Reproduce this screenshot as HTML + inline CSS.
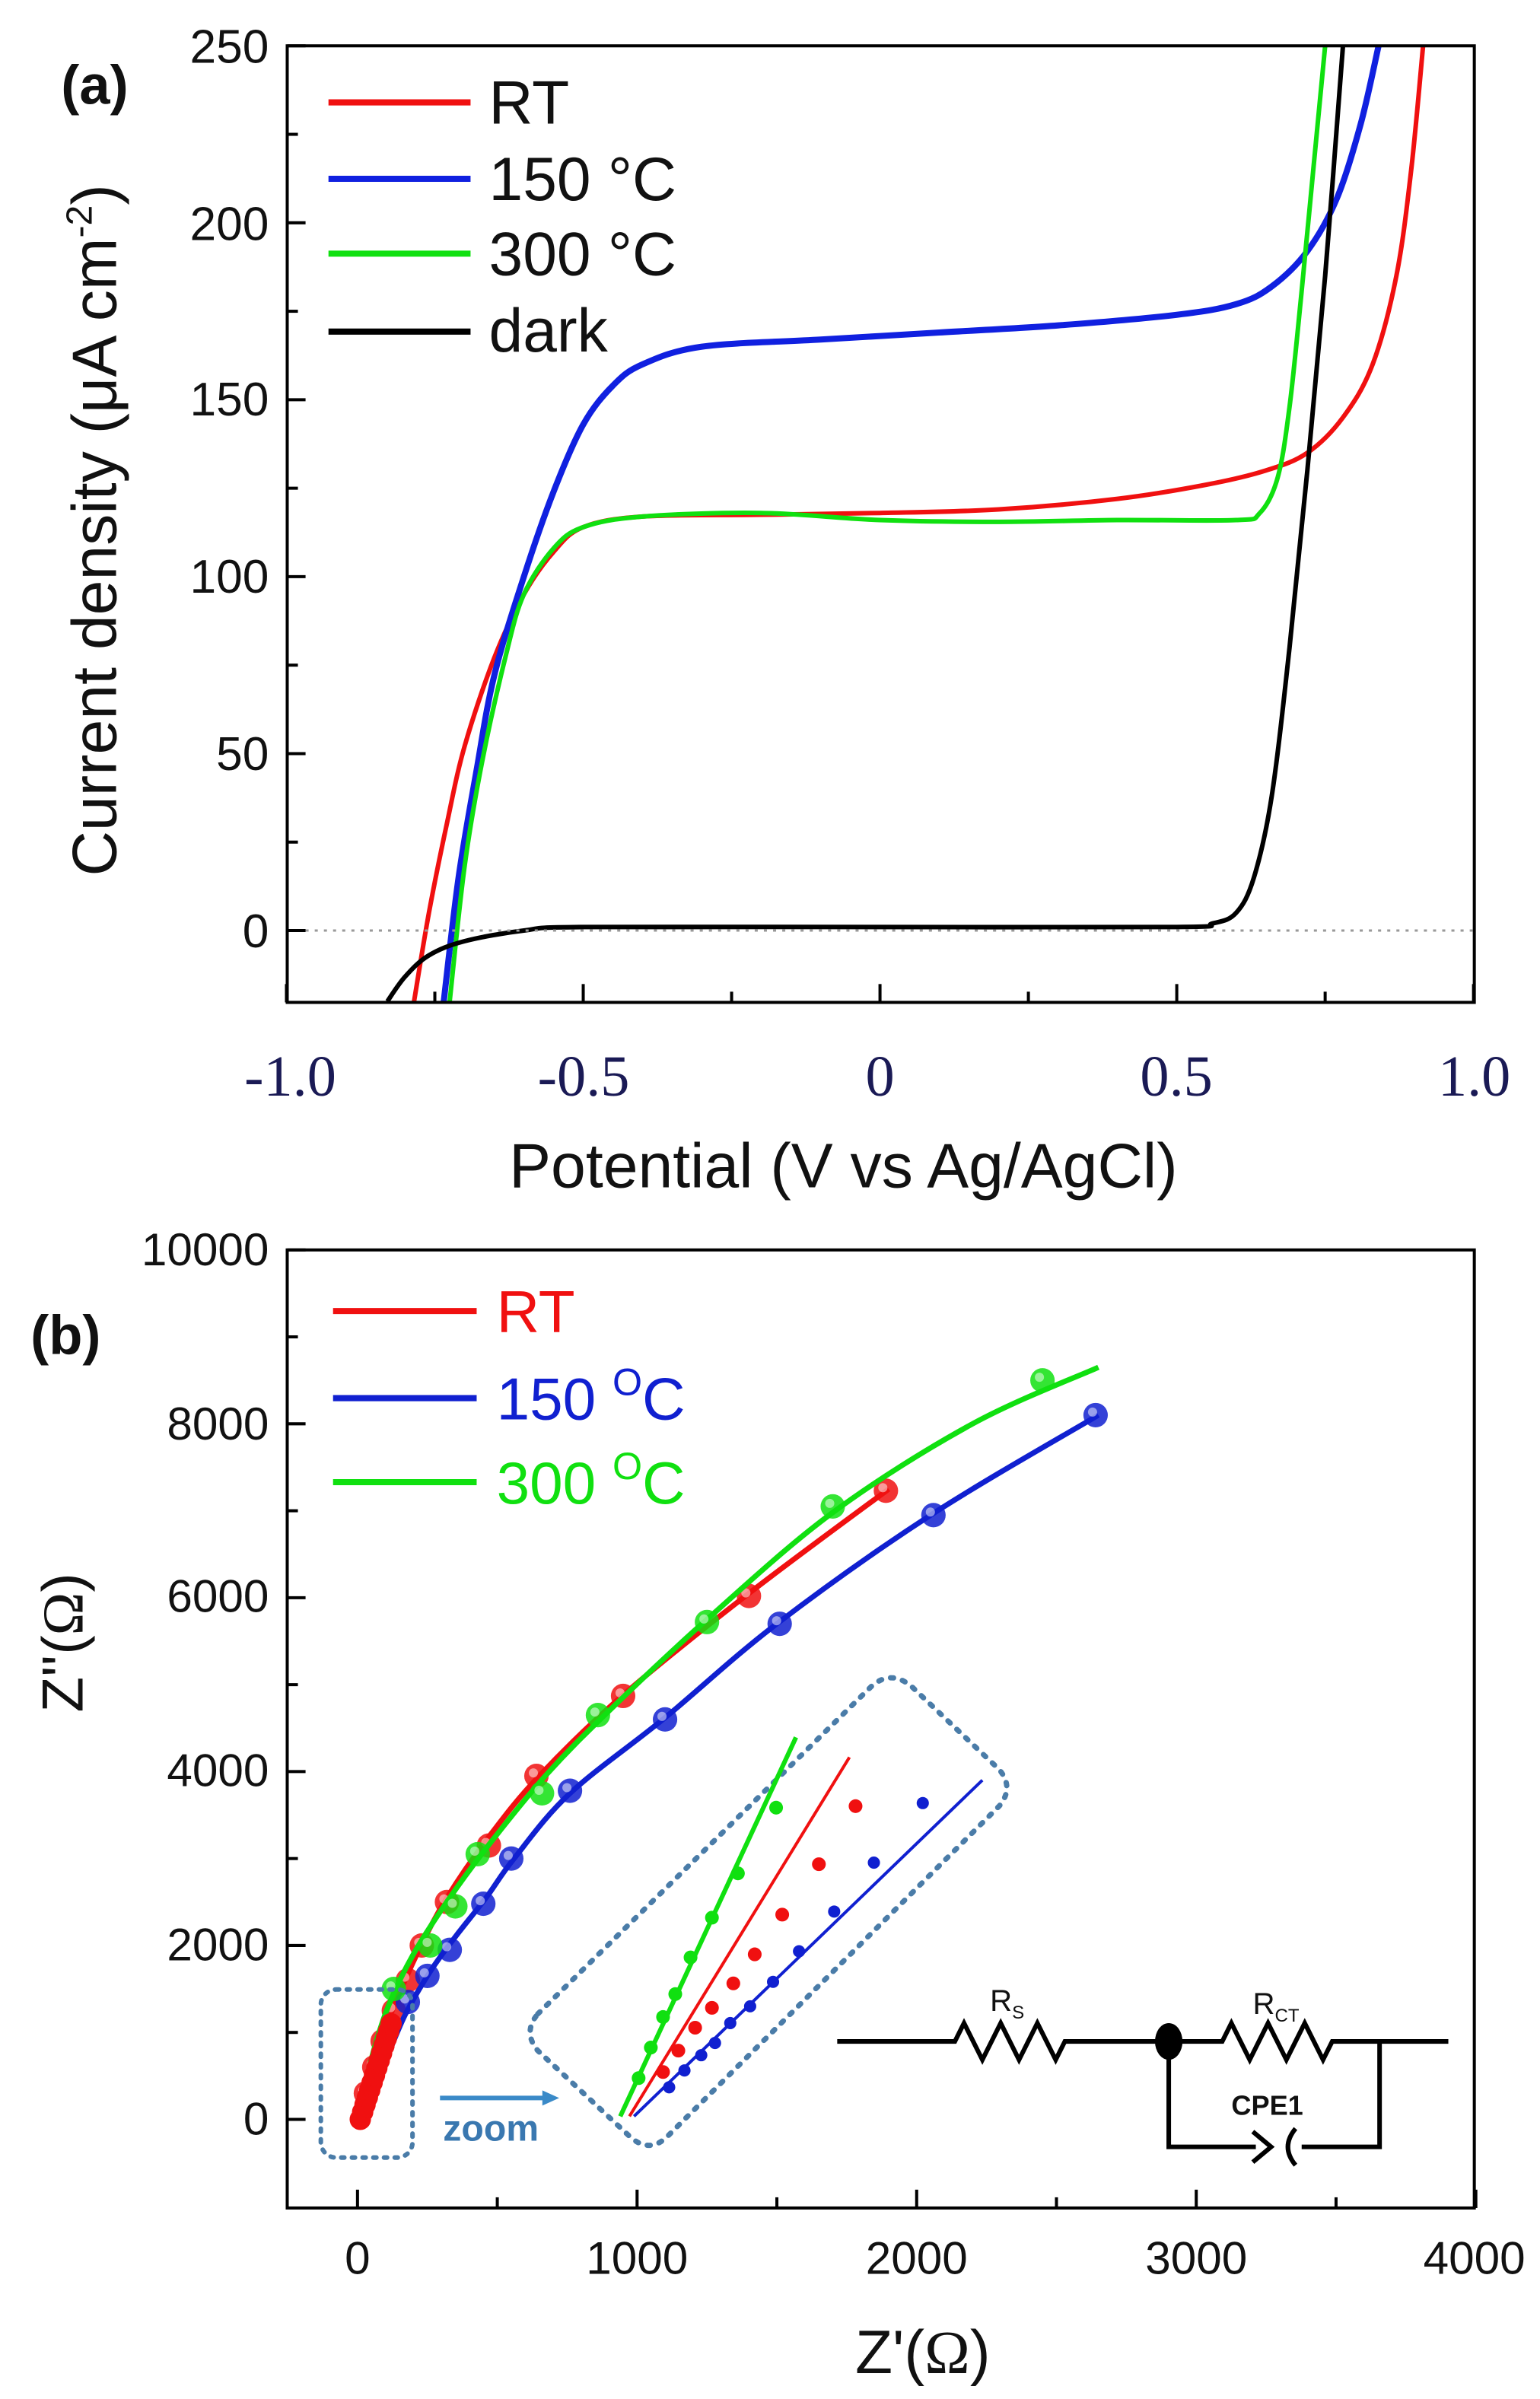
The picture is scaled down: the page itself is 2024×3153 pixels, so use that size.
<!DOCTYPE html>
<html><head><meta charset="utf-8"><style>
html,body{margin:0;padding:0;background:#fff;}
svg{display:block;}
text{font-family:"Liberation Sans",sans-serif;}
</style></head><body>
<svg id="s" width="2024" height="3153" viewBox="0 0 1008 1570" preserveAspectRatio="none" xmlns="http://www.w3.org/2000/svg">
<rect width="1008" height="1570" fill="#fff"/>
<g id="a"></g>
<g id="b"></g>
<rect x="188" y="30" width="777" height="626" fill="none" stroke="#000" stroke-width="2"/>
<line x1="188" y1="609" x2="965" y2="609" stroke="#999" stroke-width="1.5" stroke-dasharray="2,4"/>
<g font-size="31" text-anchor="end" fill="#111">
<text x="176" y="41">250</text><text x="176" y="157">200</text><text x="176" y="272">150</text>
<text x="176" y="388">100</text><text x="176" y="504">50</text><text x="176" y="620">0</text>
</g>
<g font-size="38" text-anchor="middle" fill="#1a1a55">
<text x="190" y="717" style="font-family:'Liberation Serif',serif">-1.0</text>
<text x="382" y="717" style="font-family:'Liberation Serif',serif">-0.5</text>
<text x="576" y="717" style="font-family:'Liberation Serif',serif">0</text>
<text x="770" y="717" style="font-family:'Liberation Serif',serif">0.5</text>
<text x="965" y="717" style="font-family:'Liberation Serif',serif">1.0</text>
</g>
<text x="552" y="777" font-size="41" text-anchor="middle" fill="#111">Potential (V vs Ag/AgCl)</text>
<text transform="translate(76,347) rotate(-90)" font-size="41" text-anchor="middle" fill="#111">Current density (μA cm<tspan font-size="24" dy="-16">-2</tspan><tspan dy="16">)</tspan></text>
<text x="40" y="68" font-size="36" font-weight="bold" fill="#111">(a)</text>
<g stroke-width="4">
<line x1="215" y1="67" x2="308" y2="67" stroke="#f01010"/>
<line x1="215" y1="117" x2="308" y2="117" stroke="#1020e0"/>
<line x1="215" y1="166" x2="308" y2="166" stroke="#10e010"/>
<line x1="215" y1="217" x2="308" y2="217" stroke="#000"/>
</g>
<g font-size="40" fill="#111">
<text x="320" y="81">RT</text><text x="320" y="131">150 °C</text><text x="320" y="180">300 °C</text><text x="320" y="230">dark</text>
</g>
<rect x="188" y="818" width="777" height="627" fill="none" stroke="#000" stroke-width="2"/>
<g font-size="30" text-anchor="end" fill="#111">
<text x="176" y="828">10000</text><text x="176" y="942">8000</text><text x="176" y="1055">6000</text>
<text x="176" y="1169">4000</text><text x="176" y="1283">2000</text><text x="176" y="1397">0</text>
</g>
<g font-size="30" text-anchor="middle" fill="#111">
<text x="234" y="1488">0</text><text x="417" y="1488">1000</text><text x="600" y="1488">2000</text>
<text x="783" y="1488">3000</text><text x="965" y="1488">4000</text>
</g>
<text x="604" y="1553" font-size="40" text-anchor="middle" fill="#111">Z'(<tspan style="font-family:'Liberation Serif',serif">Ω</tspan>)</text>
<text transform="translate(54,1075) rotate(-90)" font-size="38" text-anchor="middle" fill="#111">Z''(<tspan style="font-family:'Liberation Serif',serif">Ω</tspan>)</text>
<text x="20" y="886" font-size="36" font-weight="bold" fill="#111">(b)</text>
<g stroke-width="4">
<line x1="218" y1="858" x2="312" y2="858" stroke="#f01010"/>
<line x1="218" y1="915" x2="312" y2="915" stroke="#1020d0"/>
<line x1="218" y1="970" x2="312" y2="970" stroke="#10e010"/>
</g>
<g font-size="39">
<text x="325" y="872" fill="#f01010">RT</text>
<text x="325" y="929" fill="#1020d0">150 <tspan font-size="25" dy="-16">O</tspan><tspan dy="16">C</tspan></text>
<text x="325" y="984" fill="#10e010">300 <tspan font-size="25" dy="-16">O</tspan><tspan dy="16">C</tspan></text>
</g>
<rect x="210" y="1302" width="60" height="110" rx="10" fill="none" stroke="#4a7ca8" stroke-width="3" stroke-dasharray="2,5" stroke-linecap="round"/>
<line x1="288" y1="1373" x2="358" y2="1373" stroke="#3a8ac8" stroke-width="3"/>
<polygon points="366,1373 355,1368 355,1378" fill="#3a8ac8"/>
<text x="290" y="1401" font-size="24" font-weight="bold" fill="#3a78b0">zoom</text>
<path d="M352,1318 L570,1104 Q583,1092 597,1104 L654,1158 Q664,1170 654,1182 L437,1398 Q425,1410 412,1398 L352,1342 Q342,1330 352,1318 Z" fill="none" stroke="#4a7ca8" stroke-width="3.5" stroke-dasharray="2,6" stroke-linecap="round"/>
<g id="z"></g>
<g stroke="#000" stroke-width="3" fill="none">
<path d="M548,1336 H625 l6,-12 l12,24 l12,-24 l12,24 l12,-24 l12,24 l6,-12 H800 l6,-12 l12,24 l12,-24 l12,24 l12,-24 l12,24 l6,-12 H948"/>
<path d="M765,1336 V1405 H903 V1336"/>
</g>
<rect x="822" y="1398" width="30" height="14" fill="#fff"/>
<path d="M820,1395 l12,10 l-12,10 M848,1393 q-10,12 0,24" stroke="#000" stroke-width="3" fill="none"/>
<ellipse cx="765" cy="1336" rx="9" ry="12" fill="#000"/>
<text x="648" y="1316" font-size="20" fill="#111">R<tspan font-size="12" dy="5">S</tspan></text>
<text x="820" y="1318" font-size="20" fill="#111">R<tspan font-size="12" dy="5">CT</tspan></text>
<text x="806" y="1384" font-size="18" font-weight="bold" fill="#111">CPE1</text>
</svg>
<script>
var NS="http://www.w3.org/2000/svg";
function el(p,t,a){var e=document.createElementNS(NS,t);for(var k in a)e.setAttribute(k,a[k]);p.appendChild(e);return e;}
function cr(pts){var d="M"+pts[0][0]+","+pts[0][1];for(var i=0;i<pts.length-1;i++){var p0=pts[i>0?i-1:0],p1=pts[i],p2=pts[i+1],p3=pts[i+2<pts.length?i+2:i+1];
d+=" C"+(p1[0]+(p2[0]-p0[0])/6)+","+(p1[1]+(p2[1]-p0[1])/6)+" "+(p2[0]-(p3[0]-p1[0])/6)+","+(p2[1]-(p3[1]-p1[1])/6)+" "+p2[0]+","+p2[1];}return d;}
var A=document.getElementById("a");
function ax(v){return 576+v*388.5;} function ay(j){return 609-j*2.316;}
var s=document.getElementById("s");
for(var v=-1;v<=1.001;v+=0.25){var x=ax(v),L=(Math.abs(v*2-Math.round(v*2))<0.01)?12:7;el(s,"line",{x1:x,y1:656,x2:x,y2:656-L,stroke:"#000","stroke-width":2});}
for(var j=-0;j<=250;j+=25){var y=ay(j),L=(j%50==0)?12:7;el(s,"line",{x1:188,y1:y,x2:188+L,y2:y,stroke:"#000","stroke-width":2});}
var ser={
"#f01010":[[-0.785,-20],[-0.76,5],[-0.73,30],[-0.7,52],[-0.65,77],[-0.6,95],[-0.55,107],[-0.5,114],[-0.4,117],[-0.2,117.5],[0,118],[0.2,119],[0.4,122],[0.55,126],[0.65,130],[0.72,135],[0.78,145],[0.83,160],[0.87,185],[0.895,215],[0.915,250]],
"#1020e0":[[-0.735,-20],[-0.71,15],[-0.68,45],[-0.65,72],[-0.6,100],[-0.55,124],[-0.5,143],[-0.45,154],[-0.4,160],[-0.3,165],[-0.1,167],[0.1,169],[0.3,171],[0.5,174],[0.6,177],[0.66,182],[0.72,192],[0.77,207],[0.81,228],[0.84,250]],
"#10e010":[[-0.725,-20],[-0.7,18],[-0.67,48],[-0.63,78],[-0.6,95],[-0.55,108],[-0.5,114],[-0.4,117],[-0.2,118],[0,116],[0.2,115.5],[0.4,116],[0.6,116],[0.64,118],[0.67,128],[0.69,148],[0.71,180],[0.73,215],[0.75,250]],
"#000":[[-0.83,-20],[-0.8,-13],[-0.76,-7],[-0.7,-3],[-0.6,0],[-0.5,1],[0,1],[0.5,1],[0.56,2],[0.6,5],[0.63,15],[0.66,38],[0.69,80],[0.72,130],[0.75,185],[0.78,250]]};
for(var c in ser){var p=ser[c].map(function(q){return [ax(q[0]),ay(q[1])];});
el(A,"path",{d:cr(p),fill:"none",stroke:c,"stroke-width":(c=="#1020e0"?4:3)});}
var B=document.getElementById("b");
function bx(v){return 234+v*0.183;} function by(v){return 1387-v*0.0569;}
for(var v=0;v<=4000;v+=500){var x=bx(v),L=(v%1000==0)?12:7;el(s,"line",{x1:x,y1:1445,x2:x,y2:1445-L,stroke:"#000","stroke-width":2});}
for(var v=0;v<=10000;v+=1000){var y=by(v),L=(v%2000==0)?12:7;el(s,"line",{x1:188,y1:y,x2:188+L,y2:y,stroke:"#000","stroke-width":2});}
var bs={
"#f01010":{l:[[0,0],[60,700],[130,1300],[220,1950],[320,2550],[470,3250],[650,3950],[950,4880],[1400,6050],[1900,7250]],p:[[30,300],[60,600],[90,900],[130,1250],[180,1600],[230,2000],[320,2500],[470,3150],[640,3950],[950,4870],[1400,6020],[1890,7230]]},
"#1020d0":{l:[[0,0],[90,600],[170,1200],[260,1700],[350,2100],[460,2550],[560,3000],[760,3750],[1100,4620],[1500,5700],[2050,6950],[2650,8100]],p:[[180,1350],[250,1650],[330,1950],[450,2480],[550,3000],[760,3780],[1100,4600],[1510,5700],[2060,6950],[2640,8100]]},
"#10e010":{l:[[0,0],[50,700],[110,1300],[200,1900],[330,2550],[480,3200],[680,3980],[900,4700],[1250,5750],[1700,6980],[2200,8000],[2650,8650]],p:[[130,1500],[260,2000],[350,2450],[430,3050],[660,3750],[860,4650],[1250,5720],[1700,7050],[2450,8500]]}};
for(var c in bs){var L=bs[c].l.map(function(q){return [bx(q[0]),by(q[1])];});
el(B,"path",{d:cr(L),fill:"none",stroke:c,"stroke-width":3.5});
bs[c].p.forEach(function(q){el(B,"circle",{cx:bx(q[0]),cy:by(q[1]),r:8,fill:c,opacity:0.85});el(B,"circle",{cx:bx(q[0])-2,cy:by(q[1])-2,r:3,fill:"#fff",opacity:0.5});});}
for(var i=0;i<14;i++){var t=i/13;el(B,"circle",{cx:bx(10+t*110),cy:by(t*1100),r:7,fill:"#f01010"});}
var Z=document.getElementById("z");
el(Z,"line",{x1:406,y1:1385,x2:521,y2:1137,stroke:"#10e010","stroke-width":3});
el(Z,"line",{x1:412,y1:1385,x2:556,y2:1150,stroke:"#f01010","stroke-width":2});
el(Z,"line",{x1:415,y1:1385,x2:643,y2:1165,stroke:"#1020d0","stroke-width":2});
[[508,1183],[483,1226],[466,1255],[452,1281],[442,1305],[434,1320],[426,1340],[418,1360]].forEach(function(q){el(Z,"circle",{cx:q[0],cy:q[1],r:4.5,fill:"#10e010"});});
[[560,1182],[536,1220],[512,1253],[494,1279],[480,1298],[466,1314],[455,1327],[444,1342],[434,1356]].forEach(function(q){el(Z,"circle",{cx:q[0],cy:q[1],r:4.5,fill:"#f01010"});});
[[604,1180],[572,1219],[546,1251],[523,1277],[506,1297],[491,1313],[478,1324],[468,1337],[459,1345],[448,1355],[438,1366]].forEach(function(q){el(Z,"circle",{cx:q[0],cy:q[1],r:4,fill:"#1020d0"});});
</script>
</body></html>
